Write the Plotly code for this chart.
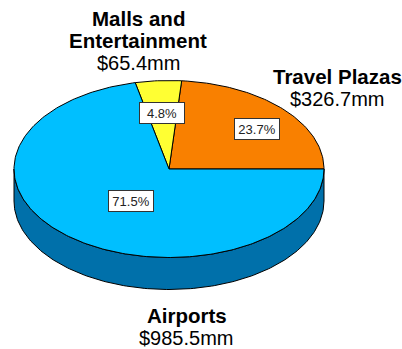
import numpy as np
import plotly.graph_objects as go

# Revenue split, listed counter-clockwise from 3 o'clock
categories = [["Travel Plazas"], ["Malls and", "Entertainment"], ["Airports"]]
revenue_mm = [326.7, 65.4, 985.5]
share_pct = [23.7, 4.8, 71.5]

top_colors = ["#F98000", "#FFFF33", "#00BFFF"]
side_color = "#0070AA"
FONT = "Liberation Sans, Arial, sans-serif"

# Pie geometry in page units
CX, CY, RX, RY, DEPTH = 169, 169, 155, 88.5, 32


def rim(a0, a1, dy=0.0):
    """Points along the ellipse between two angles given in degrees."""
    t = np.radians(np.arange(a0, a1, 1.0).tolist() + [a1])
    return CX + RX * np.cos(t), CY - RY * np.sin(t) + dy


fig = go.Figure()

# Visible wall of the disc: lower half of the rim, extruded downwards
xa, ya = rim(180, 360)
xb, yb = rim(180, 360, DEPTH)
fig.add_trace(go.Scatter(
    x=np.concatenate([xa, xb[::-1], xa[:1]]),
    y=np.concatenate([ya, yb[::-1], ya[:1]]),
    mode="lines", fill="toself", fillcolor=side_color,
    line=dict(color="#000000", width=1), hoverinfo="skip",
))

# Top face wedges, sized from their percentage shares
edges = np.concatenate([[0], np.cumsum(share_pct)]) * 3.6
for i, color in enumerate(top_colors):
    xs, ys = rim(edges[i], edges[i + 1])
    fig.add_trace(go.Scatter(
        x=np.concatenate([[CX], xs, [CX]]),
        y=np.concatenate([[CY], ys, [CY]]),
        mode="lines", fill="toself", fillcolor=color,
        line=dict(color="#000000", width=1), hoverinfo="skip",
    ))

# Category captions: bold name lines stacked above the dollar amount
caption_x = [337, 138, 186.5]
caption_top = [76, 18, 315]
LINE_STEP = 22.5
for name_lines, rev, x, y0 in zip(categories, revenue_mm, caption_x, caption_top):
    for k, s in enumerate(name_lines):
        fig.add_annotation(
            x=x, y=y0 + k * LINE_STEP, xref="x", yref="y", showarrow=False,
            text=f"<b>{s}</b>", font=dict(family=FONT, size=20.5, color="#000000"),
        )
    fig.add_annotation(
        x=x, y=y0 + len(name_lines) * LINE_STEP, xref="x", yref="y", showarrow=False,
        text=f"${rev:.1f}mm", font=dict(family=FONT, size=20, color="#000000"),
    )

# Percentage boxes on the wedges
box_pos = [(161.5, 112.5), (257, 129), (131, 201)]
box_pct = [share_pct[1], share_pct[0], share_pct[2]]
for pct, (x, y) in zip(box_pct, box_pos):
    fig.add_annotation(
        x=x, y=y, xref="x", yref="y", showarrow=False,
        text=f"{pct:.1f}%", width=44, height=20, valign="middle",
        font=dict(family=FONT, size=13, color="#222222"),
        bgcolor="#FFFFFF", bordercolor="#333333", borderwidth=1, borderpad=0,
    )

fig.update_layout(
    width=402, height=349, margin=dict(l=0, r=0, t=0, b=0),
    paper_bgcolor="#FFFFFF", plot_bgcolor="#FFFFFF", showlegend=False,
    xaxis=dict(range=[0, 402], visible=False, fixedrange=True),
    yaxis=dict(range=[349, 0], visible=False, fixedrange=True),
)

fig.write_html("out.html", config={"displayModeBar": False})
